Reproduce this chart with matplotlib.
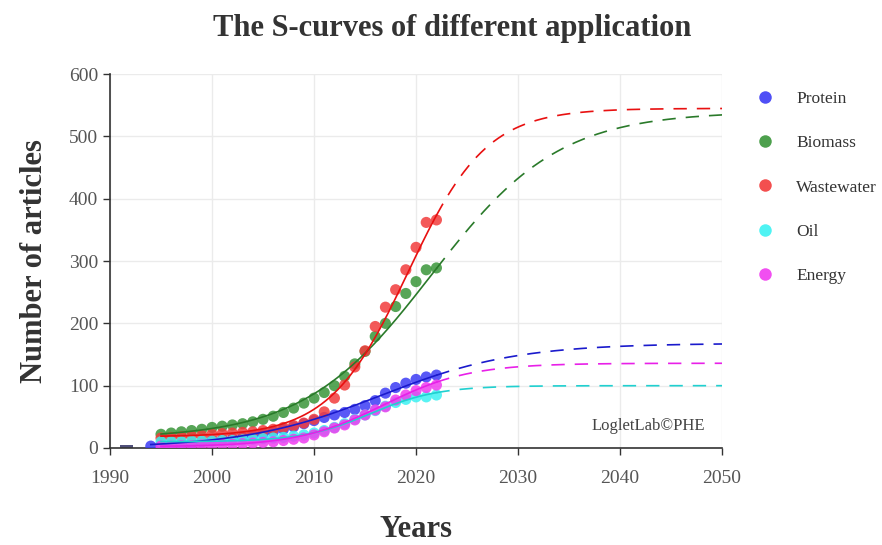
import numpy as np
import matplotlib
matplotlib.use("Agg")
import matplotlib.pyplot as plt
from matplotlib.lines import Line2D

plt.rcParams['font.family'] = ['Liberation Serif', 'DejaVu Serif']

# cumulative article counts per application
protein_years = list(range(1994, 2023))
protein = [3, 5, 6, 7, 8, 10, 12, 13, 15, 17, 20, 23, 26, 30, 34, 39, 44, 49, 53,
           57, 62, 68, 76, 88, 97, 104, 110, 114, 117]

biomass_years = list(range(1995, 2023))
biomass = [22, 24, 26, 28, 30, 33, 35, 37, 39, 42, 46, 51, 57, 64, 72, 80, 89, 100,
           115, 135, 155, 179, 200, 227, 248, 267, 286, 289]

wastewater_years = list(range(1995, 2023))
wastewater = [16, 17, 18, 19, 20, 22, 23, 24, 25, 26, 28, 30, 33, 36, 40, 46, 58, 80,
              101, 130, 156, 195, 226, 254, 286, 322, 362, 366]

oil_years = list(range(1995, 2023))
oil = [10, 10, 10, 11, 11, 11, 12, 12, 13, 14, 15, 16, 17, 19, 21, 24, 28, 33, 39,
       46, 53, 60, 67, 73, 78, 82, 82, 85]

energy_years = list(range(1995, 2023))
energy = [3, 3, 4, 4, 5, 5, 6, 6, 7, 8, 9, 10, 12, 14, 16, 21, 26, 32, 37, 45, 53,
          61, 66, 77, 85, 92, 97, 101]

# early protein block (1991-1992)
early_year = [1991.6]
early_count = [5]

# logistic fits: baseline, saturation, growth rate, midpoint year
fit_protein = (0, 168, 0.15, 2016.5)
fit_biomass = (15, 525, 0.16, 2021.5)
fit_wastewater = (18, 527, 0.26, 2019.2)
fit_oil = (10, 90, 0.30, 2015.5)
fit_energy = (2, 134, 0.236, 2016.8)

names = ['Protein', 'Biomass', 'Wastewater', 'Oil', 'Energy']
dot_colors = ['#3c3cf5', '#3a963a', '#f23c3c', '#3cf2f2', '#f03cf0']
line_colors = ['#1a1acc', '#2a7a2a', '#e81010', '#20d0d0', '#e820e8']


def logistic(t, fit):
    b, k, r, tm = fit
    return b + k / (1 + np.exp(-r * (t - tm)))


series = [
    (protein_years, protein, fit_protein),
    (biomass_years, biomass, fit_biomass),
    (wastewater_years, wastewater, fit_wastewater),
    (oil_years, oil, fit_oil),
    (energy_years, energy, fit_energy),
]

fig = plt.figure(figsize=(8.82, 5.45), dpi=100)
ax = fig.add_axes([0.1247, 0.178, 0.694, 0.686])

ax.bar(early_year, early_count, width=1.3, color='#50507a', zorder=2)

for i, (yrs, vals, fit) in enumerate(series):
    ax.scatter(yrs, vals, s=64, color=dot_colors[i], alpha=0.85,
               edgecolors='none', zorder=3)
    t_in = np.linspace(yrs[0], yrs[-1], 200)
    t_out = np.linspace(yrs[-1], 2050, 200)
    ax.plot(t_in, logistic(t_in, fit), color=line_colors[i], lw=1.2, zorder=4)
    ax.plot(t_out, logistic(t_out, fit), color=line_colors[i], lw=1.2,
            dashes=(8, 6), zorder=4)

ax.set_xlim(1990, 2050)
ax.set_ylim(0, 600)
ax.set_xticks(range(1990, 2051, 10))
ax.set_yticks(range(0, 601, 100))
ax.grid(True, color='#ebebeb', lw=1)
ax.set_axisbelow(True)
for s in ['top', 'right']:
    ax.spines[s].set_visible(False)
for s in ['left', 'bottom']:
    ax.spines[s].set_color('#333333')
    ax.spines[s].set_linewidth(1.2)
ax.tick_params(axis='both', length=5, width=1, color='#333333',
               labelsize=14, labelcolor='#555555')
ax.tick_params(axis='x', pad=11)

ax.set_xlabel('Years', fontsize=22, fontweight='bold', color='#333333', labelpad=20)
ax.set_ylabel('Number of articles', fontsize=22, fontweight='bold',
              color='#333333', labelpad=14)
fig.suptitle('The S-curves of different application', x=0.513, y=0.975,
             fontsize=22, fontweight='bold', color='#333333')

ax.text(0.972, 0.059, 'LogletLab\u00a9PHE', transform=ax.transAxes,
        ha='right', va='center', fontsize=12, color='#444444')

handles = [Line2D([], [], marker='o', ls='none', markersize=9,
                  markerfacecolor=c, markeredgecolor='none', alpha=0.9)
           for c in dot_colors]
fig.legend(handles, names, loc='upper left', bbox_to_anchor=(0.83, 0.862),
           frameon=False, fontsize=12.5, labelspacing=1.62, handletextpad=0.8,
           labelcolor='#333333')

fig.savefig('out.png', dpi=100)
